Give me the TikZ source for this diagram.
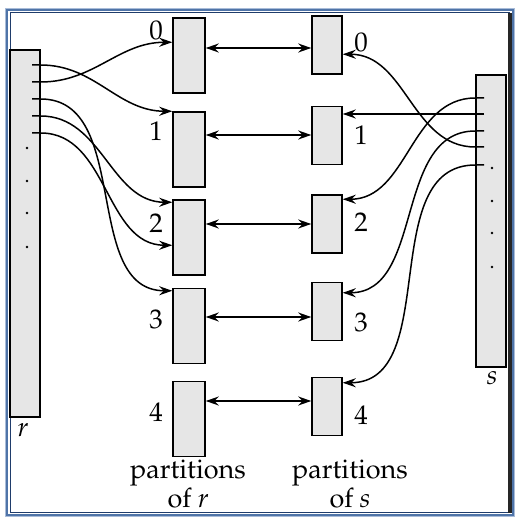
\documentclass[tikz,border=0pt]{standalone}
\usepackage[T1]{fontenc}
\usepackage{mathpazo}
\usetikzlibrary{arrows.meta}
\definecolor{boxfill}{HTML}{E6E6E6}
\definecolor{frameblue}{HTML}{4F74A8}
\definecolor{framedark}{HTML}{1F3C6B}
\definecolor{framelight}{HTML}{A9BCD8}
\begin{document}
\begin{tikzpicture}[x=1pt,y=-1pt, line width=1.5pt,
  tip/.style={-{Stealth[length=13pt,width=9pt,inset=4.5pt]}},
  both/.style={{Stealth[length=13pt,width=9pt,inset=4.5pt]}-{Stealth[length=13pt,width=9pt,inset=4.5pt]}},
  part/.style={draw, fill=boxfill, minimum width=32pt, minimum height=75pt, inner sep=0pt},
  spart/.style={draw, fill=boxfill, minimum width=30pt, minimum height=58pt, inner sep=0pt},
  rel/.style={draw, fill=boxfill, inner sep=0pt},
  lbl/.style={font=\fontsize{27}{25}\selectfont, inner sep=0pt},
]
\useasboundingbox (0,0) rectangle (520,529);
% frame
\draw[framelight, line width=1.2pt] (5.5,8.5) rectangle (514.5,516.5);
\draw[frameblue, line width=1.5pt] (7.2,10.2) rectangle (512.8,514.8);
\draw[framedark, line width=1.0pt] (10.3,12.6) rectangle (509,512.5);
\fill[black!85] (507.5,12.6) rectangle (511.5,513);

% relations
\node[rel, minimum width=30pt, minimum height=367pt] (r) at (25,233.5) {};
\node[rel, minimum width=30pt, minimum height=292pt] (s) at (491,221) {};
\node[lbl, font=\fontsize{27}{25}\selectfont\itshape] (rl) at (23,430) {r};
\node[lbl, font=\fontsize{27}{25}\selectfont\itshape] (sl) at (492,378) {s};

% partitions of r
\node[part] (r0) at (189,55.5) {};
\node[part] (r1) at (189,149.5) {};
\node[part] (r2) at (189,237.5) {};
\node[part] (r3) at (189,326) {};
\node[part] (r4) at (189,419) {};
% partitions of s
\node[spart] (s0) at (327,45) {};
\node[spart] (s1) at (327,135.5) {};
\node[spart] (s2) at (327,224) {};
\node[spart] (s3) at (327,311.5) {};
\node[spart] (s4) at (327,406.5) {};

% numbers
\node[lbl] (n0) at (156,30) {0};
\node[lbl] (n1) at (156,131) {1};
\node[lbl] (n2) at (156,223) {2};
\node[lbl] (n3) at (156,319) {3};
\node[lbl] (n4) at (156,412) {4};
\node[lbl] (m0) at (361,42) {0};
\node[lbl] (m1) at (361,135) {1};
\node[lbl] (m2) at (361,222) {2};
\node[lbl] (m3) at (361,322) {3};
\node[lbl] (m4) at (361,415) {4};

\node[lbl, align=center] (pr) at (188,484) {partitions\\of \textit{r}};
\node[lbl, align=center] (ps) at (350,484) {partitions\\of \textit{s}};

% dots
\foreach \yy in {148,181,213,247} \fill (27,\yy) circle (1.3pt);
\foreach \yy in {168,201,233,267} \fill (492,\yy) circle (1.3pt);

% ticks of r
\coordinate (ra1) at (32,65);
\coordinate (ra2) at (32,82);
\coordinate (ra3) at (32,99);
\coordinate (ra4) at (32,116);
\coordinate (ra5) at (32,133);
% ticks of s
\coordinate (sa1) at (484,98);
\coordinate (sa2) at (484,114);
\coordinate (sa3) at (484,131);
\coordinate (sa4) at (484,147);
\coordinate (sa5) at (484,165);

% r -> partitions
\draw[tip] (ra1) -- (ra1 -| r.east) to[out=0,in=180] (r1.north west);
\draw[tip] (ra2) -- (ra2 -| r.east) to[out=0,in=180] ([yshift=-25pt]r0.north west);
\draw[tip] (ra3) -- (ra3 -| r.east) to[out=0,in=180] ([yshift=-3pt]r3.north west);
\draw[tip] (ra4) -- (ra4 -| r.east) to[out=0,in=180] ([yshift=-3pt]r2.north west);
\draw[tip] (ra5) -- (ra5 -| r.east) to[out=0,in=180] ([yshift=-46pt]r2.north west);

% s -> partitions
\draw[tip] (sa1) -- (sa1 -| s.west) to[out=180,in=0] ([yshift=-5pt]s2.north east);
\draw[tip] (sa2) -- (sa2 -| s1.east);
\draw[tip] (sa3) -- (sa3 -| s.west) to[out=180,in=0] ([yshift=-11pt]s3.north east);
\draw[tip] (sa4) -- (sa4 -| s.west) to[out=180,in=0] ([yshift=-39pt]s0.north east);
\draw[tip] (sa5) -- (sa5 -| s.west) to[out=180,in=0] ([yshift=-6pt]s4.north east);

% partition pairs
\draw[both] ([yshift=-3pt]s0.west -| r0.east) -- ([yshift=-3pt]s0.west);
\draw[both] ([yshift=0.5pt]s1.west -| r1.east) -- ([yshift=0.5pt]s1.west);
\draw[both] (s2.west -| r2.east) -- (s2.west);
\draw[both] ([yshift=-5.5pt]s3.west -| r3.east) -- ([yshift=-5.5pt]s3.west);
\draw[both] ([yshift=5.5pt]s4.west -| r4.east) -- ([yshift=5.5pt]s4.west);
\end{tikzpicture}
\end{document}
